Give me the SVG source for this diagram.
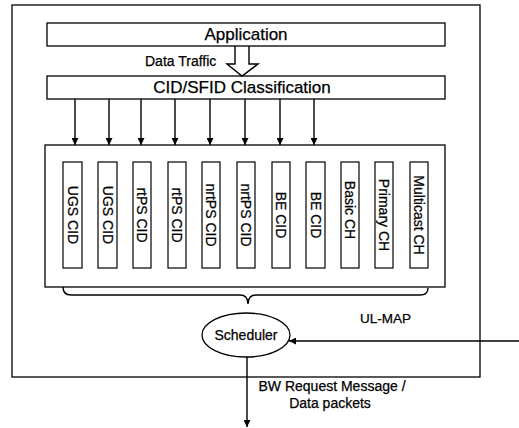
<svg xmlns="http://www.w3.org/2000/svg" width="519" height="428" viewBox="0 0 519 428">
  <defs>
    <style>
      .box { fill: none; stroke: #000; stroke-width: 1.3; }
      .bar { fill: none; stroke: #000; stroke-width: 1.2; }
      .ln { fill: none; stroke: #000; stroke-width: 1.4; }
      text { font-family: "Liberation Sans", Arial, sans-serif; fill: #000; stroke: #000; stroke-width: 0.25; }
      .title { font-size: 17px; text-anchor: middle; }
      .lbl { font-size: 14px; }
      .ch { font-size: 14px; text-anchor: middle; dominant-baseline: central; }
    </style>
    <marker id="head" viewBox="0 0 10 10" refX="10" refY="5" markerWidth="7" markerHeight="7" markerUnits="userSpaceOnUse" orient="auto">
      <path d="M0,0 L10,5 L0,10 z" fill="#000"/>
    </marker>
  </defs>
  <rect width="519" height="428" fill="#fff"/>

  <!-- enclosing frame -->
  <g id="frame">
    <rect class="box" x="12" y="5" width="468" height="372"/>
  </g>

  <g id="application">
    <rect class="box" x="47" y="23" width="398" height="23"/>
    <text class="title" x="246" y="40">Application</text>
  </g>

  <g id="classification">
    <rect class="box" x="47" y="76" width="398" height="23"/>
    <text class="title" x="242" y="93">CID/SFID Classification</text>
  </g>

  <g id="queues">
    <rect class="box" x="45" y="145" width="400" height="142"/>
    <g id="q1"><rect class="bar" x="63" y="162" width="19" height="106"/><text class="ch" transform="translate(72.5,215) rotate(90)">UGS CID</text></g>
    <g id="q2"><rect class="bar" x="98" y="162" width="19" height="106"/><text class="ch" transform="translate(107.5,215) rotate(90)">UGS CID</text></g>
    <g id="q3"><rect class="bar" x="133" y="162" width="18" height="106"/><text class="ch" transform="translate(142,215) rotate(90)">rtPS CID</text></g>
    <g id="q4"><rect class="bar" x="168" y="162" width="18" height="106" stroke-width="1.6"/><text class="ch" transform="translate(177,215) rotate(90)">rtPS CID</text></g>
    <g id="q5"><rect class="bar" x="202" y="162" width="18" height="106"/><text class="ch" transform="translate(211,215) rotate(90)">nrtPS CID</text></g>
    <g id="q6"><rect class="bar" x="237" y="162" width="18" height="106"/><text class="ch" transform="translate(246,215) rotate(90)">nrtPS CID</text></g>
    <g id="q7"><rect class="bar" x="272" y="162" width="18" height="106"/><text class="ch" transform="translate(281,215) rotate(90)">BE CID</text></g>
    <g id="q8"><rect class="bar" x="306" y="162" width="19" height="106"/><text class="ch" transform="translate(315.5,215) rotate(90)">BE CID</text></g>
    <g id="q9"><rect class="bar" x="341" y="162" width="18" height="106"/><text class="ch" transform="translate(350,210) rotate(90)">Basic CH</text></g>
    <g id="q10"><rect class="bar" x="375" y="162" width="18" height="106"/><text class="ch" transform="translate(384,215) rotate(90)">Primary CH</text></g>
    <g id="q11"><rect class="bar" x="410" y="162" width="18" height="106"/><text class="ch" transform="translate(419,215) rotate(90)">Multicast CH</text></g>
  </g>

  <g id="scheduler">
    <ellipse class="box" cx="246" cy="335" rx="44" ry="22"/>
    <text x="246" y="340" font-size="14" text-anchor="middle">Scheduler</text>
  </g>

  <g id="connectors">
    <!-- hollow data-traffic arrow -->
    <path class="ln" stroke-width="1.3" d="M235,46 V64 H227 L242,76 L258,64 H249 V46" fill="#fff"/>
    <text class="lbl" x="145" y="66">Data Traffic</text>

    <!-- classifier to queues -->
    <g class="ln" marker-end="url(#head)">
      <line x1="75" y1="99" x2="75" y2="145"/>
      <line x1="109" y1="99" x2="109" y2="145"/>
      <line x1="141" y1="99" x2="141" y2="145"/>
      <line x1="175" y1="99" x2="175" y2="145"/>
      <line x1="210" y1="99" x2="210" y2="145"/>
      <line x1="245" y1="99" x2="245" y2="145"/>
      <line x1="280" y1="99" x2="280" y2="145"/>
      <line x1="314" y1="99" x2="314" y2="145"/>
    </g>

    <!-- brace gathering the queues -->
    <path class="ln" stroke-width="1.2" d="M63,287 Q63,295 71,295 H240 Q248,295 248,304 Q248,295 256,295 H420 Q428,295 428,288"/>

    <!-- UL-MAP input -->
    <line class="ln" x1="519" y1="341" x2="289" y2="341" marker-end="url(#head)"/>
    <text x="360" y="323" font-size="13.5">UL-MAP</text>

    <!-- scheduler output -->
    <line class="ln" x1="247" y1="357" x2="247" y2="427" marker-end="url(#head)"/>
    <text class="lbl" x="332" y="391" text-anchor="middle">BW Request Message /</text>
    <text class="lbl" x="330" y="408" text-anchor="middle">Data packets</text>
  </g>
</svg>
